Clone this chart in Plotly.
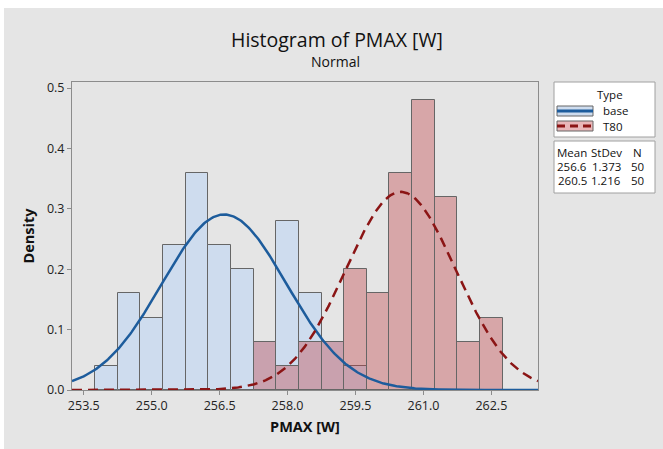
import numpy as np
import plotly.graph_objects as go

# ---------------- data ----------------
bin_centers = [254.0, 254.5, 255.0, 255.5, 256.0, 256.5, 257.0, 257.5, 258.0,
               258.5, 259.0, 259.5, 260.0, 260.5, 261.0, 261.5, 262.0, 262.5]
base_density = [0.04, 0.16, 0.12, 0.24, 0.36, 0.24, 0.20, 0.08, 0.28,
                0.16, 0.08, 0.04, 0.0, 0.0, 0.0, 0.0, 0.0, 0.0]
t80_density = [0.0, 0.0, 0.0, 0.0, 0.0, 0.0, 0.0, 0.08, 0.04,
               0.08, 0.08, 0.20, 0.16, 0.36, 0.48, 0.32, 0.08, 0.12]
bin_width = 0.5
groups = ["base", "T80"]
means = [256.6, 260.5]
stdevs = [1.373, 1.216]
counts = [50, 50]
x_ticks = [253.5, 255.0, 256.5, 258.0, 259.5, 261.0, 262.5]
y_ticks = [0.0, 0.1, 0.2, 0.3, 0.4, 0.5]
x_range = [253.24, 263.53]
y_range = [0, 0.51]

# ---------------- styles ----------------
FONT = "Open Sans"
TXT = "#111111"
BLUE_FILL = "#cedcee"
RED_FILL = "rgba(193,60,66,0.37)"
BLUE_LINE = "#1d5c9c"
RED_LINE = "#8b1515"
BAR_EDGE = "#666666"
GRAY_BG = "#e5e5e5"

W, H = 663, 449
L, R, T, B = 72, 125, 82, 59
PW, PH = W - L - R, H - T - B


def px(x):
    return (x - L) / PW


def py(y):
    return (H - B - y) / PH


fig = go.Figure()

fig.add_trace(go.Bar(x=[c for c, v in zip(bin_centers, base_density) if v > 0],
                     y=[v for v in base_density if v > 0], width=bin_width,
                     marker=dict(color=BLUE_FILL, line=dict(color=BAR_EDGE, width=1)),
                     showlegend=False, hoverinfo="skip"))
fig.add_trace(go.Bar(x=[c for c, v in zip(bin_centers, t80_density) if v > 0],
                     y=[v for v in t80_density if v > 0], width=bin_width,
                     marker=dict(color=RED_FILL, line=dict(color=BAR_EDGE, width=1)),
                     showlegend=False, hoverinfo="skip"))

xs = np.linspace(x_range[0], x_range[1], 400)
for m, s, col, dash in [(means[0], stdevs[0], BLUE_LINE, "solid"),
                        (means[1], stdevs[1], RED_LINE, "10px,6px")]:
    pdf = np.exp(-0.5 * ((xs - m) / s) ** 2) / (s * np.sqrt(2 * np.pi))
    fig.add_trace(go.Scatter(x=xs, y=pdf, mode="lines",
                             line=dict(color=col, width=2.5, dash=dash),
                             showlegend=False, hoverinfo="skip"))

shapes = []
# gray background panel
shapes.append(dict(type="rect", xref="paper", yref="paper", layer="below",
                   x0=px(4), x1=px(663), y0=py(449), y1=py(8),
                   fillcolor=GRAY_BG, line=dict(width=0)))
# legend boxes
shapes.append(dict(type="rect", xref="paper", yref="paper",
                   x0=px(554), x1=px(655), y0=py(137), y1=py(82),
                   fillcolor="white", line=dict(color="#a0a0a0", width=1)))
shapes.append(dict(type="rect", xref="paper", yref="paper",
                   x0=px(554), x1=px(655), y0=py(193), y1=py(141),
                   fillcolor="white", line=dict(color="#a0a0a0", width=1)))
# legend swatches
for (y0, y1), fill, col, dash in [((106, 116), BLUE_FILL, BLUE_LINE, "solid"),
                                  ((121, 131), "#e8b7b9", RED_LINE, "8px,5px")]:
    shapes.append(dict(type="rect", xref="paper", yref="paper",
                       x0=px(557), x1=px(593), y0=py(y1), y1=py(y0),
                       fillcolor=fill, line=dict(color=BAR_EDGE, width=1)))
    shapes.append(dict(type="line", xref="paper", yref="paper",
                       x0=px(557), x1=px(593), y0=py((y0 + y1) / 2), y1=py((y0 + y1) / 2),
                       line=dict(color=col, width=3, dash=dash)))

annotations = []


def txt(text, x, y, size=11, anchor="center", bold=False):
    annotations.append(dict(text=("<b>%s</b>" % text) if bold else text,
                            xref="paper", yref="paper", x=px(x), y=py(y),
                            xanchor=anchor, yanchor="middle", showarrow=False,
                            font=dict(family=FONT, size=size, color=TXT)))


txt("Type", 610, 94, 11.5)
txt(groups[0], 601, 110, 11.5, "left")
txt(groups[1], 601, 126, 11.5, "left")
txt("Mean", 572, 152, 11.5)
txt("StDev", 606, 152, 11.5)
txt("N", 637, 152, 11.5)
for i in range(2):
    yy = 166 + 14 * i
    txt("%.1f" % means[i], 572, yy, 11.5)
    txt("%.3f" % stdevs[i], 606, yy, 11.5)
    txt("%d" % counts[i], 637, yy, 11.5)

txt("Histogram of PMAX [W]", 337, 39, 19.5)
txt("Normal", 335, 61, 14)

fig.update_layout(
    width=W, height=H,
    margin=dict(l=L, r=R, t=T, b=B),
    paper_bgcolor="white", plot_bgcolor="white",
    barmode="overlay", bargap=0,
    shapes=shapes, annotations=annotations,
    font=dict(family=FONT, size=12, color=TXT),
    xaxis=dict(range=x_range, tickvals=x_ticks, ticktext=["%.1f" % v for v in x_ticks],
               showgrid=False, zeroline=False, showline=True, linecolor="#8c8c8c",
               mirror=True, ticks="outside", ticklen=4, tickcolor="#8c8c8c",
               tickfont=dict(size=12.5, color="#222"),
               title=dict(text="<b>PMAX [W]</b>", font=dict(size=14.5, color=TXT), standoff=8)),
    yaxis=dict(range=y_range, tickvals=y_ticks, ticktext=["%.1f" % v for v in y_ticks],
               showgrid=False, zeroline=False, showline=True, linecolor="#8c8c8c",
               mirror=True, ticks="outside", ticklen=4, tickcolor="#8c8c8c",
               tickfont=dict(size=12.5, color="#222"),
               title=dict(text="<b>Density</b>", font=dict(size=14.5, color=TXT), standoff=8)),
)

fig.write_html("out.html")
